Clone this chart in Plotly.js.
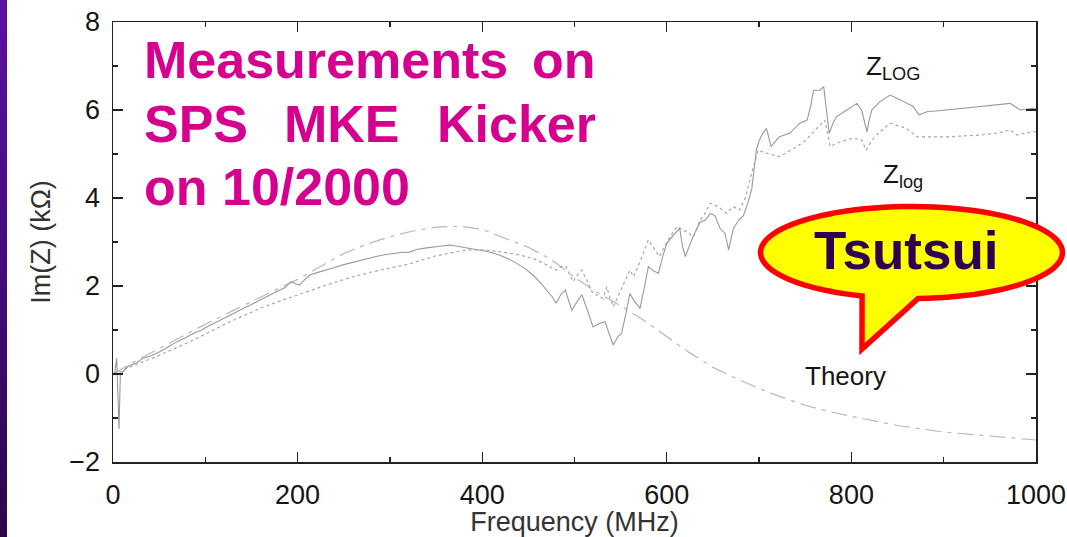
<!DOCTYPE html>
<html>
<head>
<meta charset="utf-8">
<script src="https://cdn.plot.ly/plotly-3.0.1.min.js"></script>
<style>
  html, body { margin: 0; padding: 0; background: #ffffff; }
  #wrap { position: relative; width: 1067px; height: 537px; overflow: hidden; }
  #chart { position: absolute; left: 0; top: 0; width: 1067px; height: 537px; }
  #edge { position: absolute; left: 0; top: 0; width: 7px; height: 537px; z-index: 5;
          background: linear-gradient(to bottom, #5c10a4 0%, #420c7c 50%, #2a0848 100%); }
</style>
</head>
<body>
<div id="wrap">
  <div id="chart"></div>
  <div id="edge"></div>
</div>
<script>
// Imaginary part of the longitudinal impedance of the SPS MKE kicker.
// Measured with the log-formula variants Z_LOG and Z_log, compared with theory.

const freqLOG = [0, 2, 4, 5, 6.5, 8, 12, 16, 25, 33, 42, 51, 60, 69, 78, 87, 96, 105, 114, 123, 132, 141,
  150, 159, 168, 177, 186, 193, 198, 202, 208, 213, 222, 231, 240, 249, 258, 267, 276, 285, 294, 303,
  312, 321, 329, 338, 347, 356, 365, 374, 383, 392, 401, 410, 419, 428, 437, 446, 455, 462, 470, 476,
  480, 485, 490, 494, 497, 502, 508, 514, 520, 527, 533, 537, 542, 547, 551, 556, 560, 565, 571, 576,
  580, 585, 591, 596, 600, 607, 614, 617, 620, 628, 636, 642, 647, 652, 658, 663, 667, 672, 678, 683,
  688, 692, 697, 700, 704, 708, 713, 718, 722, 733, 744, 752, 756, 759, 766, 770, 773, 776, 780, 784,
  795, 806, 811, 814, 817, 819, 822, 831, 842, 853, 867, 873, 882, 903, 921, 939, 957, 972, 983, 997, 1000];
const zLOG = [0.0, 0.05, 0.35, -0.2, -1.25, 0.0, 0.08, 0.17, 0.25, 0.36, 0.42, 0.51, 0.62, 0.73, 0.82, 0.92,
  1.0, 1.11, 1.2, 1.30, 1.40, 1.49, 1.58, 1.68, 1.78, 1.87, 1.96, 2.10, 2.05, 2.02, 2.15, 2.25, 2.31, 2.36,
  2.42, 2.48, 2.53, 2.57, 2.62, 2.67, 2.71, 2.74, 2.76, 2.77, 2.83, 2.86, 2.89, 2.91, 2.93, 2.90, 2.86, 2.84,
  2.80, 2.76, 2.70, 2.62, 2.52, 2.40, 2.25, 2.10, 1.91, 1.75, 1.61, 1.80, 1.91, 1.65, 1.45, 1.62, 1.80, 1.45,
  1.07, 1.15, 1.19, 0.95, 0.66, 0.85, 0.92, 1.4, 1.83, 1.65, 1.49, 2.0, 2.44, 2.35, 2.29, 2.7, 2.97, 3.15,
  3.31, 2.9, 2.67, 3.1, 3.45, 3.5, 3.65, 3.6, 3.3, 3.2, 2.82, 3.3, 3.5, 3.6, 3.9, 4.2, 5.09, 5.3, 5.47, 5.58,
  5.17, 5.3, 5.39, 5.47, 5.70, 5.77, 6.1, 6.45, 6.45, 6.53, 6.0, 5.47, 5.7, 5.85, 6.0, 6.15, 6.0, 5.75, 5.5,
  5.75, 6.0, 6.19, 6.34, 6.23, 6.08, 5.89, 5.96, 6.0, 6.04, 6.08, 6.11, 6.15, 6.0, 6.04, 6.02];

const freqlog = [0, 8, 15, 33, 51, 69, 87, 105, 123, 141, 159, 177, 195, 213, 231, 249, 267, 285, 303, 311,
  321, 330, 347, 365, 383, 401, 419, 437, 455, 468, 480, 486, 491, 495, 498.5, 503, 508, 514, 520, 526, 531,
  535, 538, 542, 548, 554, 560, 564, 572, 580, 586, 592, 600, 611, 620, 629, 636, 640, 647, 656, 665, 672,
  679, 685, 690, 695, 699, 708, 722, 731, 741, 750, 759, 766, 771, 774, 777, 788, 802, 811, 816, 822, 827,
  842, 850, 860, 871, 903, 939, 960, 972, 979, 997, 1000];
const zlog = [0.0, 0.05, 0.13, 0.28, 0.43, 0.60, 0.77, 0.96, 1.15, 1.32, 1.49, 1.63, 1.76, 1.90, 2.02, 2.14,
  2.25, 2.34, 2.42, 2.44, 2.50, 2.56, 2.67, 2.75, 2.82, 2.82, 2.78, 2.72, 2.63, 2.50, 2.36, 2.45, 2.44, 2.25,
  2.10, 2.25, 2.36, 2.1, 1.83, 1.78, 1.72, 1.98, 1.75, 1.53, 1.8, 2.1, 2.36, 2.21, 2.6, 3.05, 2.85, 2.67, 3.0,
  3.35, 3.25, 3.12, 3.5, 3.6, 3.88, 3.8, 3.65, 3.8, 3.73, 4.0, 4.41, 4.8, 5.09, 5.02, 4.94, 5.05, 5.17, 5.3,
  5.51, 5.65, 5.77, 5.5, 5.17, 5.28, 5.36, 5.32, 5.09, 5.3, 5.43, 5.70, 5.65, 5.58, 5.39, 5.39, 5.43, 5.48,
  5.55, 5.43, 5.51, 5.50];

const freqTheory = [0, 25, 50, 75, 100, 125, 150, 175, 200, 225, 250, 275, 300, 325, 350, 375, 400, 425, 450,
  475, 500, 525, 550, 575, 600, 625, 650, 675, 700, 725, 750, 775, 800, 850, 900, 950, 1000];
const zTheory = [0.0, 0.3, 0.58, 0.86, 1.13, 1.39, 1.65, 1.90, 2.15, 2.45, 2.74, 2.95, 3.12, 3.25, 3.34, 3.36,
  3.29, 3.08, 2.88, 2.6, 2.2, 1.85, 1.55, 1.22, 0.85, 0.48, 0.15, -0.1, -0.33, -0.53, -0.71, -0.85, -0.96,
  -1.17, -1.32, -1.41, -1.5];

const xTicks = [0, 200, 400, 600, 800, 1000];
const yTicks = [-2, 0, 2, 4, 6, 8];

// plot area in page pixels
const L = 113, R = 1036, T = 22, B = 462;
const px = x => (x - L) / (R - L);
const py = y => (B - y) / (B - T);

const chartFont = 'Liberation Sans, Arial, Helvetica, sans-serif';
const inkColor = '#151515';

const traces = [
  { x: freqTheory, y: zTheory, type: 'scatter', mode: 'lines', name: 'Theory',
    line: { color: '#b8b8b8', width: 1.2, dash: '16px,6px,4px,6px' } },
  { x: freqlog, y: zlog, type: 'scatter', mode: 'lines', name: 'Z_log',
    line: { color: '#a8a8a8', width: 1.2, dash: 'dot' } },
  { x: freqLOG, y: zLOG, type: 'scatter', mode: 'lines', name: 'Z_LOG',
    line: { color: '#999999', width: 1.1 } }
];

// speech bubble outline: ellipse with a pointer below it
function bubblePath() {
  const cx = 911.5, cy = 252.5, rx = 151, ry = 46;
  const tip = [862, 349];
  const tStart = 87.5, tEnd = 109.1 - 360;
  const pts = [];
  const n = 90;
  for (let i = 0; i <= n; i++) {
    const t = (tStart + (tEnd - tStart) * i / n) * Math.PI / 180;
    pts.push([cx + rx * Math.cos(t), cy + ry * Math.sin(t)]);
  }
  pts.push(tip);
  return 'M' + pts.map(p => px(p[0]).toFixed(5) + ',' + py(p[1]).toFixed(5)).join(' L') + ' Z';
}

const magenta = '#d6008f';
const headFont = { family: chartFont, size: 52, color: magenta, weight: 'bold' };

function note(text, x, y, font, xanchor) {
  return { text: text, xref: 'paper', yref: 'paper', x: px(x), y: py(y),
           xanchor: xanchor || 'left', yanchor: 'middle', showarrow: false, font: font, borderpad: 0 };
}

const labelFont = { family: chartFont, size: 26, color: inkColor };

const layout = {
  width: 1067, height: 537,
  margin: { l: L, r: 1067 - R, t: T, b: 537 - B, pad: 0 },
  paper_bgcolor: '#ffffff', plot_bgcolor: '#ffffff',
  showlegend: false,
  xaxis: {
    range: [0, 1000], tickvals: xTicks, ticktext: xTicks.map(String),
    ticks: 'inside', ticklen: 10, tickwidth: 1.3, tickcolor: '#222',
    minor: { dtick: 100, ticks: 'inside', ticklen: 5, tickwidth: 1.3, tickcolor: '#222', showgrid: false },
    showline: true, linecolor: '#222', linewidth: 1.5, mirror: 'ticks',
    showgrid: false, zeroline: false,
    tickfont: { family: chartFont, size: 27, color: inkColor },
    ticklabelstandoff: 8,
    title: { text: 'Frequency (MHz)', font: { family: chartFont, size: 27, color: '#333' }, standoff: 12 }
  },
  yaxis: {
    range: [-2, 8], tickvals: yTicks, ticktext: yTicks.map(v => v < 0 ? '\u2212' + Math.abs(v) : String(v)),
    ticks: 'inside', ticklen: 10, tickwidth: 1.3, tickcolor: '#222',
    minor: { dtick: 1, ticks: 'inside', ticklen: 5, tickwidth: 1.3, tickcolor: '#222', showgrid: false },
    showline: true, linecolor: '#222', linewidth: 1.5, mirror: 'ticks',
    showgrid: false, zeroline: false,
    tickfont: { family: chartFont, size: 27, color: inkColor },
    ticklabelstandoff: 6,
    title: { text: 'Im(Z) (k\u03A9)', font: { family: chartFont, size: 27, color: '#333' }, standoff: 11 }
  },
  shapes: [
    { type: 'path', xref: 'paper', yref: 'paper', path: bubblePath(), layer: 'above',
      fillcolor: '#ffff00', line: { color: '#ff0000', width: 5.5 } }
  ],
  annotations: [
    note('Measurements', 143, 60, headFont),
    note('on', 597, 60, headFont, 'right'),
    note('SPS', 143, 123.5, headFont),
    note('MKE', 283, 123.5, headFont),
    note('Kicker', 597, 123.5, headFont, 'right'),
    note('on 10/2000', 143, 187, headFont),
    note('Tsutsui', 906, 250, { family: chartFont, size: 53, color: '#2d0050', weight: 'bold' }, 'center'),
    note('Z<sub>LOG</sub>', 865, 68, labelFont),
    note('Z<sub>log</sub>', 882, 175, labelFont),
    note('Theory', 804, 376, labelFont)
  ]
};

Plotly.newPlot('chart', traces, layout, { staticPlot: true, displayModeBar: false });
</script>
</body>
</html>
